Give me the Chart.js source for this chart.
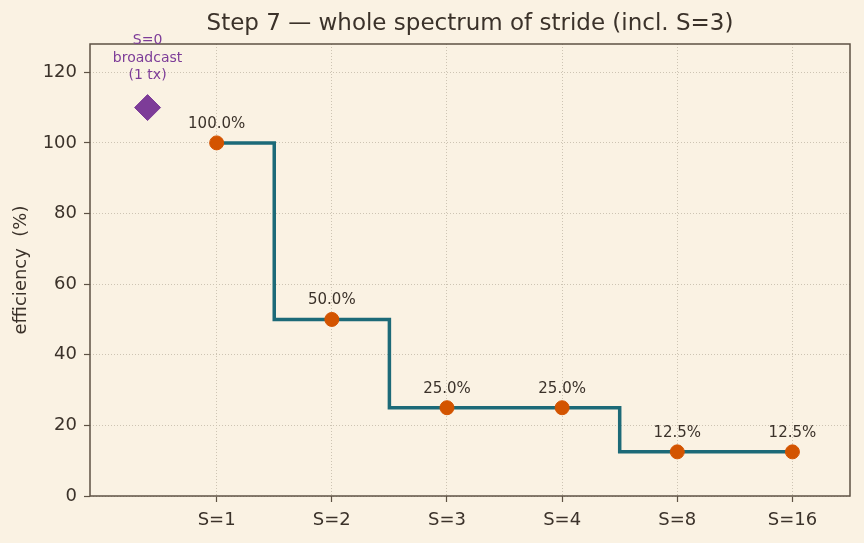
<!DOCTYPE html>
<html>
<head>
<meta charset="utf-8">
<style>
  html, body { margin: 0; padding: 0; background: #faf2e3; }
  #wrap { width: 864px; height: 543px; }
</style>
<script src="https://cdn.jsdelivr.net/npm/chart.js@4.4.0/dist/chart.umd.min.js"></script>
</head>
<body>
<div id="wrap"><canvas id="myChart" width="864" height="543"></canvas></div>
<script>
// data
var strideLabels = ['S=1', 'S=2', 'S=3', 'S=4', 'S=8', 'S=16'];
var strideX = [1, 2, 3, 4, 5, 6];
var efficiency = [100, 50, 25, 25, 12.5, 12.5];
var broadcastX = 0.4;
var broadcastY = 110;
var broadcastNote = ['S=0', 'broadcast', '(1 tx)'];
var chartTitle = 'Step 7 \u2014 whole spectrum of stride (incl. S=3)';

var ink = '#3b322a';
var spine = '#5e5244';
var gridCol = '#cdc4b3';

var stepPts = strideX.map(function (x, i) { return { x: x, y: efficiency[i] }; });

// frame, title over plot area, value labels and the S=0 note
var frameAndLabels = {
  id: 'frameAndLabels',
  afterDatasetsDraw: function (chart) {
    var ctx = chart.ctx, a = chart.chartArea;
    var xs = chart.scales.x, ys = chart.scales.y;
    ctx.save();
    ctx.strokeStyle = spine;
    ctx.lineWidth = 1.5;
    ctx.strokeRect(a.left, a.top, a.right - a.left, a.bottom - a.top);

    ctx.textAlign = 'center';
    ctx.textBaseline = 'middle';
    ctx.fillStyle = ink;
    ctx.font = '23px "DejaVu Sans"';
    ctx.fillText(chartTitle, (a.left + a.right) / 2, 24);

    ctx.font = '15px "DejaVu Sans"';
    for (var i = 0; i < strideX.length; i++) {
      var px = xs.getPixelForValue(strideX[i]);
      var py = ys.getPixelForValue(efficiency[i]);
      ctx.fillText(efficiency[i].toFixed(1) + '%', px, py - 19);
    }

    ctx.font = '14px "DejaVu Sans"';
    ctx.fillStyle = '#7d3c98';
    var bx = xs.getPixelForValue(broadcastX);
    var by = ys.getPixelForValue(broadcastY);
    for (var j = 0; j < broadcastNote.length; j++) {
      ctx.fillText(broadcastNote[j], bx, by - 67 + j * 17.5);
    }
    ctx.restore();
  }
};

document.addEventListener('DOMContentLoaded', function () {
  var ctx = document.getElementById('myChart');
  new Chart(ctx, {
    type: 'scatter',
    data: {
      datasets: [{
        type: 'line',
        data: stepPts,
        stepped: 'middle',
        borderColor: '#1c6a78',
        borderWidth: 3.5,
        pointRadius: 0,
        fill: false,
        order: 2
      }, {
        data: stepPts,
        backgroundColor: '#d35400',
        borderColor: '#d35400',
        pointRadius: 7,
        order: 1
      }, {
        data: [{ x: broadcastX, y: broadcastY }],
        pointStyle: 'rectRot',
        backgroundColor: '#7d3c98',
        borderColor: '#7d3c98',
        pointRadius: 13,
        order: 1
      }]
    },
    plugins: [frameAndLabels],
    options: {
      responsive: false,
      animation: false,
      layout: { padding: { left: 0, right: 13, top: 44, bottom: 0 } },
      plugins: {
        legend: { display: false },
        tooltip: { enabled: false },
        title: { display: false }
      },
      scales: {
        x: {
          type: 'linear',
          min: -0.1,
          max: 6.5,
          afterBuildTicks: function (s) {
            s.ticks = strideX.map(function (v) { return { value: v }; });
          },
          afterFit: function (s) { s.height = 47; },
          ticks: {
            color: ink,
            padding: 8,
            font: { family: 'DejaVu Sans', size: 18 },
            callback: function (v) { return strideLabels[strideX.indexOf(v)]; }
          },
          grid: {
            color: gridCol,
            tickColor: spine,
            tickLength: 6,
            tickWidth: 1.2
          },
          border: { display: false, dash: [1, 2] }
        },
        y: {
          min: 0,
          max: 128,
          afterBuildTicks: function (s) {
            s.ticks = [0, 20, 40, 60, 80, 100, 120].map(function (v) { return { value: v }; });
          },
          afterFit: function (s) { s.width = 90; },
          title: {
            display: true,
            text: 'efficiency  (%)',
            color: ink,
            font: { family: 'DejaVu Sans', size: 18 },
            padding: { top: 11, bottom: 0 }
          },
          ticks: {
            color: ink,
            padding: 7,
            font: { family: 'DejaVu Sans', size: 18 }
          },
          grid: {
            color: gridCol,
            tickColor: spine,
            tickLength: 6,
            tickWidth: 1.2
          },
          border: { display: false, dash: [1, 2] }
        }
      }
    }
  });
});
</script>
</body>
</html>
